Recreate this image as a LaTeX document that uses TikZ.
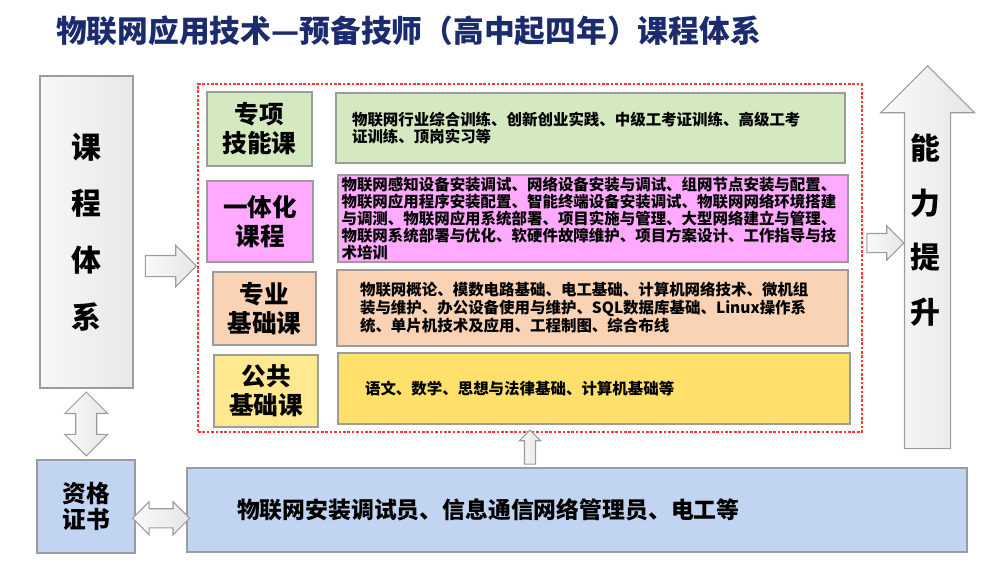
\documentclass[tikz,border=0pt]{standalone}
\usepackage{fontspec}
\setmainfont{Noto Sans CJK SC}
\usetikzlibrary{positioning,fit,calc,shapes.arrows}
\definecolor{titlenavy}{HTML}{1C2B6E}
\definecolor{skillgreen}{HTML}{D5E9C1}
\definecolor{intpink}{HTML}{FFAAFF}
\definecolor{basepeach}{HTML}{FAD3B5}
\definecolor{pubyellow}{HTML}{FFE06A}
\definecolor{certblue}{HTML}{C1D4F2}
\definecolor{edgegray}{HTML}{9C9C9C}
\tikzset{
  box/.style={draw=edgegray,line width=0.7pt,inner sep=0pt},
  lab/.style={box,align=center,font=\bfseries\fontsize{14}{16.5}\selectfont},
  txt/.style={box,align=left,font=\bfseries\fontsize{8.8}{9.8}\selectfont},
  blk/.style={draw=edgegray,line width=0.6pt,left color=gray!4,right color=gray!20,inner sep=0pt},
}
\begin{document}
\begin{tikzpicture}[x=0.02cm,y=-0.02cm]
\useasboundingbox (0,0) rectangle (1000,571);
\node[anchor=west,text=titlenavy,font=\bfseries\fontsize{17.5}{20}\selectfont] (title) at (50,31) {物联网应用技术—预备技师（高中起四年）课程体系};

\node[box,left color=gray!6,right color=gray!18,minimum width=1.86cm,minimum height=6.24cm,align=center,font=\bfseries\fontsize{17}{32.3}\selectfont] (sys) at (86.5,232) {课\\程\\体\\系};
\node[draw=red!80,dash pattern=on 1.5pt off 1pt,line width=0.6pt,inner sep=0pt,fit={(198,84) (862,432)}] (frame) {};

\node[lab,fill=skillgreen,minimum width=2.1cm,minimum height=1.48cm] (skilllab) at (259.5,129) {专项\\技能课};
\node[txt,fill=skillgreen,minimum width=10.18cm,minimum height=1.4cm,text width=9.54cm] (skill) at (590.5,128) {物联网行业综合训练、创新创业实践、中级工考证训练、高级工考\\证训练、顶岗实习等};

\node[lab,fill=intpink,minimum width=2.12cm,minimum height=1.62cm] (intlab) at (260,221.5) {一体化\\课程};
\node[txt,fill=intpink,minimum width=10.2cm,minimum height=1.74cm,text width=10.06cm] (int) at (593,218.5) {物联网感知设备安装调试、网络设备安装与调试、组网节点安装与配置、\\物联网应用程序安装配置、智能终端设备安装调试、物联网网络环境搭建\\与调测、物联网应用系统部署、项目实施与管理、大型网络建立与管理、\\物联网系统部署与优化、软硬件故障维护、项目方案设计、工作指导与技\\术培训};

\node[lab,fill=basepeach,minimum width=2.06cm,minimum height=1.46cm] (baselab) at (264.5,308.5) {专业\\基础课};
\node[txt,fill=basepeach,minimum width=10.22cm,minimum height=1.52cm,text width=9.3cm,font=\bfseries\fontsize{8.8}{10.2}\selectfont] (base) at (592.5,308) {物联网概论、模数电路基础、电工基础、计算机网络技术、微机组\\装与维护、办公设备使用与维护、SQL数据库基础、Linux操作系\\统、单片机技术及应用、工程制图、综合布线};

\node[lab,fill=pubyellow!75,minimum width=2.08cm,minimum height=1.44cm] (publab) at (266,391) {公共\\基础课};
\node[txt,fill=pubyellow,minimum width=10.24cm,minimum height=1.42cm,text width=9.16cm] (pub) at (594,388.5) {语文、数学、思想与法律基础、计算机基础等};

\node[box,fill=certblue,minimum width=1.96cm,minimum height=1.86cm,align=center,font=\bfseries\fontsize{13.5}{15}\selectfont] (cert) at (86,506.5) {资格\\证书};
\node[box,fill=certblue,minimum width=15.6cm,minimum height=1.68cm,align=left,text width=13.6cm,font=\bfseries\fontsize{13}{15}\selectfont] (job) at (577,510) {物联网安装调试员、信息通信网络管理员、电工等};

\node[blk,single arrow,shape border rotate=90,inner sep=0.45cm,single arrow head extend=0.48cm,minimum height=7.66cm,anchor=tip] (lift) at (927.5,65) {};
\node[align=center,font=\bfseries\fontsize{17}{31}\selectfont] (liftlab) at ($(lift.tip)+(-2,165)$) {能\\力\\提\\升};

\node[blk,single arrow,inner sep=0.2cm,single arrow head extend=0.2cm,minimum height=1.02cm] (a1) at ($(sys.east)!0.5!(frame.west)+(0,21)$) {};
\node[blk,single arrow,inner sep=0.18cm,single arrow head extend=0.15cm,minimum height=0.74cm] (a2) at ($(frame.east)+(18,-15)$) {};
\node[blk,double arrow,shape border rotate=90,inner sep=0.2cm,double arrow head extend=0.22cm,minimum height=1.28cm] (a3) at ($(sys.south)!0.5!(cert.north)$) {};
\node[blk,double arrow,inner sep=0.18cm,double arrow head extend=0.14cm,minimum height=1.14cm] (a4) at ($(cert.east)!0.5!(job.west)+(0,10)$) {};
\node[blk,single arrow,shape border rotate=90,inner sep=0.1cm,single arrow head extend=0.1cm,minimum height=0.68cm] (a5) at ($(frame.south)!0.5!(frame.south |- job.north)$) {};
\end{tikzpicture}
\end{document}
